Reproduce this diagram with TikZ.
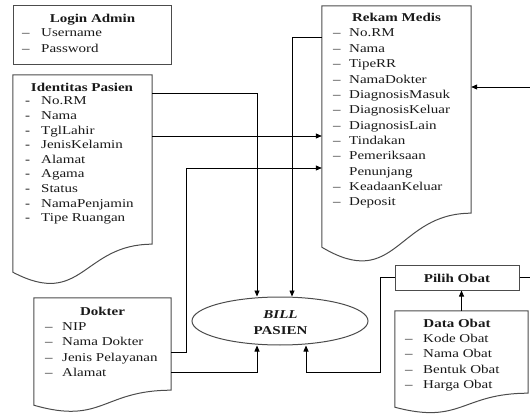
\documentclass[tikz,border=0pt]{standalone}
\usepackage{fontspec}
\setmainfont{Liberation Serif}[FakeStretch=1.25]
\usetikzlibrary{arrows.meta,calc,shapes.geometric}
\tikzset{
  txt/.style={font=\fontsize{12}{14}\selectfont, inner sep=0pt, text=black!90},
  ttl/.style={txt, font=\fontsize{12}{14}\selectfont\bfseries, anchor=base},
  itm/.style={txt, anchor=base west},
  area/.style={rectangle, draw=none, inner sep=0pt},
  outline/.style={draw=black!70, line width=1pt},
  conn/.style={draw=black, line width=0.8pt},
  arr/.style={conn, -{Triangle[length=6pt,width=5pt]}},
}
\begin{document}
\begin{tikzpicture}[x=1pt,y=-1pt]
\useasboundingbox (0,0) rectangle (530,414);

% ---- area nodes ----
\node[area, minimum width=157, minimum height=58] (login) at (92.5,35) {};
\node[area, minimum width=139, minimum height=169] (ident) at (82.5,159.5) {};
\node[area, minimum width=149, minimum height=207] (rekam) at (396.5,109.5) {};
\node[area, minimum width=137, minimum height=92] (dokter) at (102.5,344) {};
\node[area, minimum width=133, minimum height=82] (dataobat) at (461.5,352) {};
\node[area, outline, minimum width=124, minimum height=25] (pilih) at (457,277.5) {};
\node[ellipse, outline, inner sep=0pt, minimum width=176, minimum height=48] (ell) at (280,321) {};

% ---- outlines ----
\draw[outline] (login.north west) rectangle (login.south east);
\draw[outline] (ident.north west) -- (ident.north east) -- (ident.south east)
  .. controls (ident.south) and ($(ident.south)+(0,64.6)$) .. ($(ident.south west)+(0,28)$) -- cycle;
\draw[outline] (rekam.north west) -- (rekam.north east) -- (rekam.south east)
  .. controls (rekam.south) and ($(rekam.south)+(0,78.6)$) .. ($(rekam.south west)+(0,34)$) -- cycle;
\draw[outline] (dokter.north west) -- (dokter.north east) -- (dokter.south east)
  .. controls (dokter.south) and ($(dokter.south)+(0,34.8)$) .. ($(dokter.south west)+(0,15)$) -- cycle;
\draw[outline] (dataobat.north west) -- (dataobat.north east) -- (dataobat.south east)
  .. controls (dataobat.south) and ($(dataobat.south)+(0,31.8)$) .. ($(dataobat.south west)+(0,14)$) -- cycle;

% ---- texts ----
\node[ttl] (loginT) at (92.5,22.5) {Login Admin};
\node[itm] (ld1) at (22,37) {--};
\node[itm] (lt1) at (41,37) {Username};
\node[itm] (ld2) at (22,52.5) {--};
\node[itm] (lt2) at (41,52.5) {Password};

\node[ttl] (identT) at (82,92) {Identitas Pasien};
\foreach [count=\i] \t in {No.RM,Nama,TglLahir,JenisKelamin,Alamat,Agama,Status,NamaPenjamin,Tipe Ruangan}{
  \node[itm] (idd\i) at (25,{105+14.6*(\i-1)}) {-};
  \node[itm] (idt\i) at (41,{105+14.6*(\i-1)}) {\t};
}

\node[ttl] (rekamT) at (396.5,22) {Rekam Medis};
\foreach [count=\i] \t in {No.RM,Nama,TipeRR,NamaDokter,DiagnosisMasuk,DiagnosisKeluar,DiagnosisLain,Tindakan,Pemeriksaan,Penunjang,KeadaanKeluar,Deposit}{
  \node[itm] (rkt\i) at (349,{37+15.36*(\i-1)}) {\t};
}
\foreach \i in {1,...,9,11,12}{
  \node[itm] (rkd\i) at (333,{37+15.36*(\i-1)}) {--};
}

\node[ttl] (dokterT) at (102.5,315) {Dokter};
\foreach [count=\i] \t/\yy in {NIP/330,Nama Dokter/345.5,Jenis Pelayanan/361,Alamat/376}{
  \node[itm] (dkd\i) at (45,\yy) {--};
  \node[itm] (dkt\i) at (62,\yy) {\t};
}

\node[ttl] (obatT) at (457,327) {Data Obat};
\foreach [count=\i] \t/\yy in {Kode Obat/342,Nama Obat/357,Bentuk Obat/373,Harga Obat/388}{
  \node[itm] (obd\i) at (405,\yy) {--};
  \node[itm] (obt\i) at (423,\yy) {\t};
}

\node[ttl] (pilihT) at (457,282) {Pilih Obat};
\node[ttl, font=\fontsize{12}{14}\selectfont\bfseries\itshape] (billT) at (280.5,318) {BILL};
\node[ttl] (pasienT) at (280.5,334) {PASIEN};

% ---- connectors ----
\coordinate (rin) at (530,87);
\coordinate (pout) at (530,277.5);
\draw[arr] (ident.east |- 0,93) -| (ell.north -| 257,0);
\draw[arr] (ident.east |- 0,136) -- (rekam.west |- 0,136);
\draw[arr] (rekam.west |- 0,37) -| (ell.north -| 292,0);
\draw[arr] (dokter.east |- 0,352) -| (186,168) -- (rekam.west |- 0,168);
\draw[arr] (dokter.east |- 0,372) -| (ell.south -| 257,0);
\draw[arr] (pilih.west) -| (380,372) -| (ell.south -| 306,0);
\draw[arr] (dataobat.north) -- (pilih.south -| dataobat.north);
\draw[arr] (rin) -- (rekam.east |- rin);
\draw[conn] (pilih.east) -- (pout);
\end{tikzpicture}
\end{document}
